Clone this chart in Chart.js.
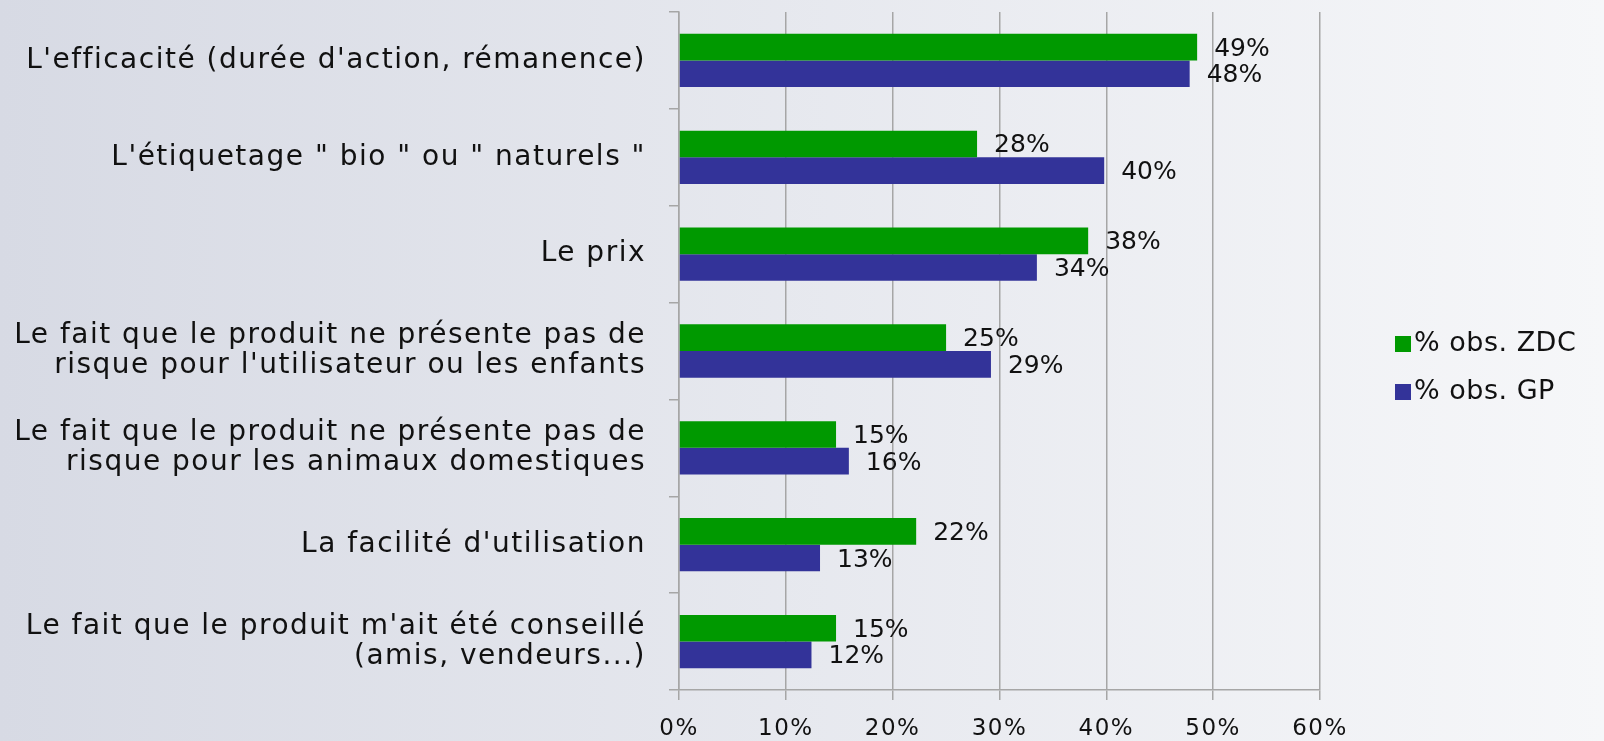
<!DOCTYPE html>
<html>
<head>
<meta charset="utf-8">
<script src="https://cdn.jsdelivr.net/npm/chart.js@4/dist/chart.umd.min.js"></script>
<style>
  html, body { margin: 0; padding: 0; }
  body { width: 1604px; height: 741px; overflow: hidden; background: linear-gradient(to right, #d7dae4, #f6f7f9); }
  #wrap { position: relative; width: 1604px; height: 741px; }
</style>
</head>
<body>
<div id="wrap"><canvas id="chart" width="1604" height="741"></canvas></div>
<script>
const categories = [
  "L'efficacité (durée d'action, rémanence)",
  "L'étiquetage \" bio \" ou \" naturels \"",
  "Le prix",
  ["Le fait que le produit ne présente pas de", "risque pour l'utilisateur ou les enfants"],
  ["Le fait que le produit ne présente pas de", "risque pour les animaux domestiques"],
  "La facilité d'utilisation",
  ["Le fait que le produit m'ait été conseillé", "(amis, vendeurs...)"]
]
const zdcValues = [48.5, 27.9, 38.3, 25.0, 14.7, 22.2, 14.7]
const gpValues  = [47.8, 39.8, 33.5, 29.2, 15.9, 13.2, 12.4]
const seriesLabels = ["% obs. ZDC", "% obs. GP"]
const seriesColors = ["#009900", "#333399"]
const xTicks = [0, 10, 20, 30, 40, 50, 60]

const FONT = "'DejaVu Sans', sans-serif"

// the original uses a wide geometric face, widen the glyphs a little
const spacing = {
  id: "spacing",
  beforeDraw(chart) { chart.ctx.letterSpacing = "1.5px" }
}

// value labels at the end of each bar
const valueLabels = {
  id: "valueLabels",
  afterDatasetsDraw(chart) {
    const ctx = chart.ctx
    ctx.save()
    ctx.letterSpacing = "0px"
    ctx.font = "25px " + FONT
    ctx.fillStyle = "#111"
    ctx.textAlign = "left"
    ctx.textBaseline = "middle"
    chart.data.datasets.forEach((ds, di) => {
      chart.getDatasetMeta(di).data.forEach((bar, i) => {
        ctx.fillText(Math.round(ds.data[i]) + "%", bar.x + 17, bar.y + 2)
      })
    })
    ctx.restore()
  }
}

// legend on the right, drawn from the datasets
const sideLegend = {
  id: "sideLegend",
  afterDraw(chart) {
    const ctx = chart.ctx
    ctx.save()
    ctx.letterSpacing = "0.5px"
    ctx.font = "27px " + FONT
    ctx.textBaseline = "middle"
    chart.data.datasets.forEach((ds, i) => {
      const y = 344 + i * 48
      ctx.fillStyle = ds.backgroundColor
      ctx.fillRect(1395, y - 8, 16, 16)
      ctx.fillStyle = "#111"
      ctx.fillText(ds.label, 1414, y)
    })
    ctx.restore()
  }
}

new Chart(document.getElementById("chart"), {
  type: "bar",
  data: {
    labels: categories,
    datasets: seriesLabels.map((label, i) => ({
      label,
      data: i === 0 ? zdcValues : gpValues,
      backgroundColor: seriesColors[i],
      borderWidth: 0,
      categoryPercentage: 0.55,
      barPercentage: 1.0
    }))
  },
  options: {
    indexAxis: "y",
    responsive: false,
    animation: false,
    devicePixelRatio: 1,
    layout: { padding: { top: 12, right: 284, bottom: 0, left: 0 } },
    plugins: { legend: { display: false }, tooltip: { enabled: false } },
    scales: {
      x: {
        min: 0, max: 60,
        afterBuildTicks: (axis) => { axis.ticks = xTicks.map(v => ({ value: v })) },
        afterFit: (axis) => { axis.height = 51; axis.paddingLeft = 0; axis.paddingRight = 0 },
        grid: { color: "#a6a6a6", lineWidth: 1.5, drawTicks: true, tickLength: 10, tickColor: "#a6a6a6" },
        border: { color: "#a6a6a6", width: 1.5 },
        ticks: { color: "#111", font: { family: FONT, size: 23 }, padding: 15, callback: (v) => v + "%" }
      },
      y: {
        afterFit: (axis) => { axis.width = 679; axis.paddingTop = 0; axis.paddingBottom = 0 },
        grid: { drawOnChartArea: false, drawTicks: true, tickLength: 10, color: "#a6a6a6", lineWidth: 1.5, offset: true },
        border: { color: "#a6a6a6", width: 1.5 },
        ticks: { color: "#111", font: { family: FONT, size: 28, lineHeight: 1.08 }, padding: 23, autoSkip: false }
      }
    }
  },
  plugins: [spacing, valueLabels, sideLegend]
})
</script>
</body>
</html>
